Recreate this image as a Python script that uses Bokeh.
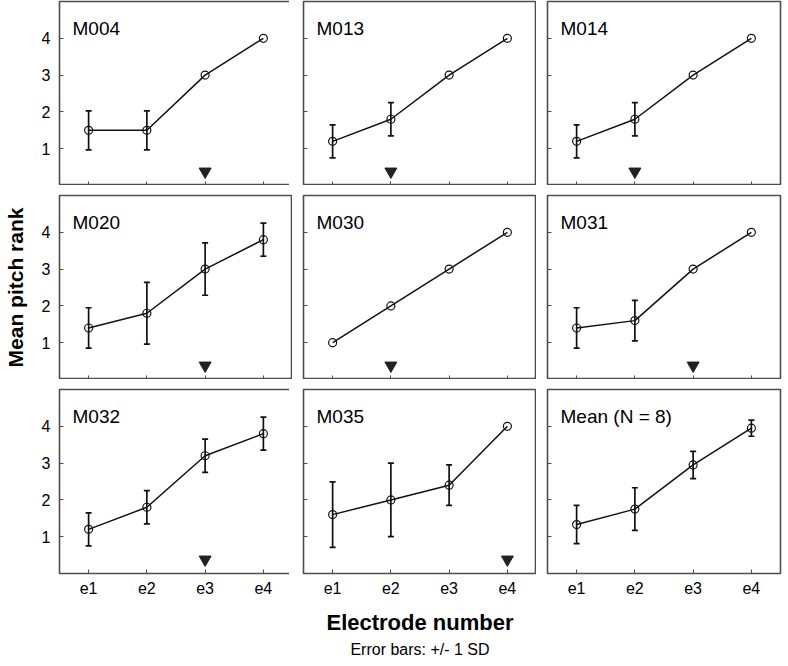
from bokeh.plotting import figure
from bokeh.layouts import gridplot
from bokeh.models import (ColumnDataSource, Whisker, TeeHead, Label, Title,
                          FixedTicker, FactorRange, Range1d)
from bokeh.embed import file_html
from bokeh.resources import INLINE

# ---------------- data ----------------
ELECTRODES = ["e1", "e2", "e3", "e4"]
Y_TICKS = [1, 2, 3, 4]

PANEL_TITLES = ["M004", "M013", "M014", "M020", "M030", "M031",
                "M032", "M035", "Mean (N = 8)"]

M004_MEAN = [1.5, 1.5, 3.0, 4.0]
M004_SD = [0.53, 0.53, 0.0, 0.0]
M013_MEAN = [1.2, 1.8, 3.0, 4.0]
M013_SD = [0.45, 0.45, 0.0, 0.0]
M014_MEAN = [1.2, 1.8, 3.0, 4.0]
M014_SD = [0.45, 0.45, 0.0, 0.0]
M020_MEAN = [1.4, 1.8, 3.0, 3.8]
M020_SD = [0.55, 0.84, 0.71, 0.45]
M030_MEAN = [1.0, 2.0, 3.0, 4.0]
M030_SD = [0.0, 0.0, 0.0, 0.0]
M031_MEAN = [1.4, 1.6, 3.0, 4.0]
M031_SD = [0.55, 0.55, 0.0, 0.0]
M032_MEAN = [1.2, 1.8, 3.2, 3.8]
M032_SD = [0.45, 0.45, 0.45, 0.45]
M035_MEAN = [1.6, 2.0, 2.4, 4.0]
M035_SD = [0.89, 1.0, 0.55, 0.0]
GROUP_MEAN = [1.33, 1.75, 2.95, 3.95]
GROUP_SD = [0.52, 0.58, 0.37, 0.22]

# electrode marked with a triangle in each panel (None = no marker)
MARKED_ELECTRODE = ["e3", "e2", "e2", "e3", "e2", "e3", "e3", "e4", None]
MARKER_LEVEL = 0.38

ALL_MEANS = [M004_MEAN, M013_MEAN, M014_MEAN, M020_MEAN, M030_MEAN,
             M031_MEAN, M032_MEAN, M035_MEAN, GROUP_MEAN]
ALL_SDS = [M004_SD, M013_SD, M014_SD, M020_SD, M030_SD,
           M031_SD, M032_SD, M035_SD, GROUP_SD]

# ---------------- style ----------------
FONT = "Liberation Sans"
FW, FH = 233, 184
INK = "#111111"
FRAME = "#4d4d4d"


def make_panel(i):
    row, col = divmod(i, 3)
    mean, sd = ALL_MEANS[i], ALL_SDS[i]
    p = figure(x_range=FactorRange(*ELECTRODES), y_range=Range1d(0, 5),
               frame_width=FW, frame_height=FH,
               output_backend="svg", toolbar_location=None,
               min_border_left=56 if col == 0 else 11,
               min_border_right=2 if col == 2 else 0,
               min_border_top=1 if row == 0 else 10,
               min_border_bottom=84 if row == 2 else 0)
    p.background_fill_color = "white"
    p.border_fill_color = "white"
    p.outline_line_color = FRAME
    p.outline_line_width = 1.6
    p.xgrid.visible = False
    p.ygrid.visible = False

    p.yaxis.ticker = FixedTicker(ticks=Y_TICKS)
    for ax in (p.xaxis[0], p.yaxis[0]):
        ax.axis_line_color = None
        ax.major_tick_in = 4
        ax.major_tick_out = 0
        ax.major_tick_line_color = FRAME
        ax.minor_tick_line_color = None
        ax.major_label_text_font = FONT
        ax.major_label_text_font_size = "16px"
        ax.major_label_text_color = "black"

    if col == 0:
        p.yaxis.major_label_standoff = 9
    else:
        p.yaxis.major_label_text_color = None
        p.yaxis.major_label_text_font_size = "1px"
        p.yaxis.major_label_standoff = 0
    if row == 2:
        p.xaxis.major_label_standoff = 8
    else:
        p.xaxis.major_label_text_color = None
        p.xaxis.major_label_text_font_size = "1px"
        p.xaxis.major_label_standoff = 0

    if row == 1 and col == 0:
        p.yaxis.axis_label = "Mean pitch rank"
        p.yaxis.axis_label_text_font = FONT
        p.yaxis.axis_label_text_font_size = "21px"
        p.yaxis.axis_label_text_font_style = "bold"
        p.yaxis.axis_label_text_color = "black"
        p.yaxis.axis_label_standoff = 12
    if row == 2 and col == 1:
        p.xaxis.axis_label = "Electrode number"
        p.xaxis.axis_label_text_font = FONT
        p.xaxis.axis_label_text_font_size = "22px"
        p.xaxis.axis_label_text_font_style = "bold"
        p.xaxis.axis_label_text_color = "black"
        p.xaxis.axis_label_standoff = 13
        note = Title(text="Error bars: +/- 1 SD", align="center",
                     text_font=FONT, text_font_size="16px",
                     text_font_style="normal", text_color="black",
                     standoff=2)
        p.add_layout(note, "below")

    # error bars
    ex = [e for e, s in zip(ELECTRODES, sd) if s > 0]
    if ex:
        lo = [m - s for m, s in zip(mean, sd) if s > 0]
        hi = [m + s for m, s in zip(mean, sd) if s > 0]
        wsrc = ColumnDataSource(dict(x=ex, lower=lo, upper=hi))
        w = Whisker(base="x", lower="lower", upper="upper", source=wsrc,
                    dimension="height", line_color=INK, line_width=1.7,
                    upper_head=TeeHead(size=6, line_color=INK, line_width=1.7),
                    lower_head=TeeHead(size=6, line_color=INK, line_width=1.7))
        p.add_layout(w)

    src = ColumnDataSource(dict(x=ELECTRODES, y=mean))
    p.line("x", "y", source=src, line_color=INK, line_width=1.5)
    p.scatter("x", "y", source=src, marker="circle", size=8,
              fill_color=None, line_color=INK, line_width=1.2)

    if MARKED_ELECTRODE[i] is not None:
        p.scatter(x=[MARKED_ELECTRODE[i]], y=[MARKER_LEVEL],
                  marker="inverted_triangle", size=12,
                  fill_color="#222222", line_color="#222222")

    p.add_layout(Label(x=13, y=FH - 27, x_units="screen", y_units="screen",
                       text=PANEL_TITLES[i], text_font=FONT,
                       text_font_size="19px", text_color="black",
                       text_baseline="alphabetic"))
    return p


panels = [make_panel(i) for i in range(9)]
grid = gridplot([panels[0:3], panels[3:6], panels[6:9]],
                toolbar_location=None)

open("out.html", "w").write(file_html(grid, INLINE))
